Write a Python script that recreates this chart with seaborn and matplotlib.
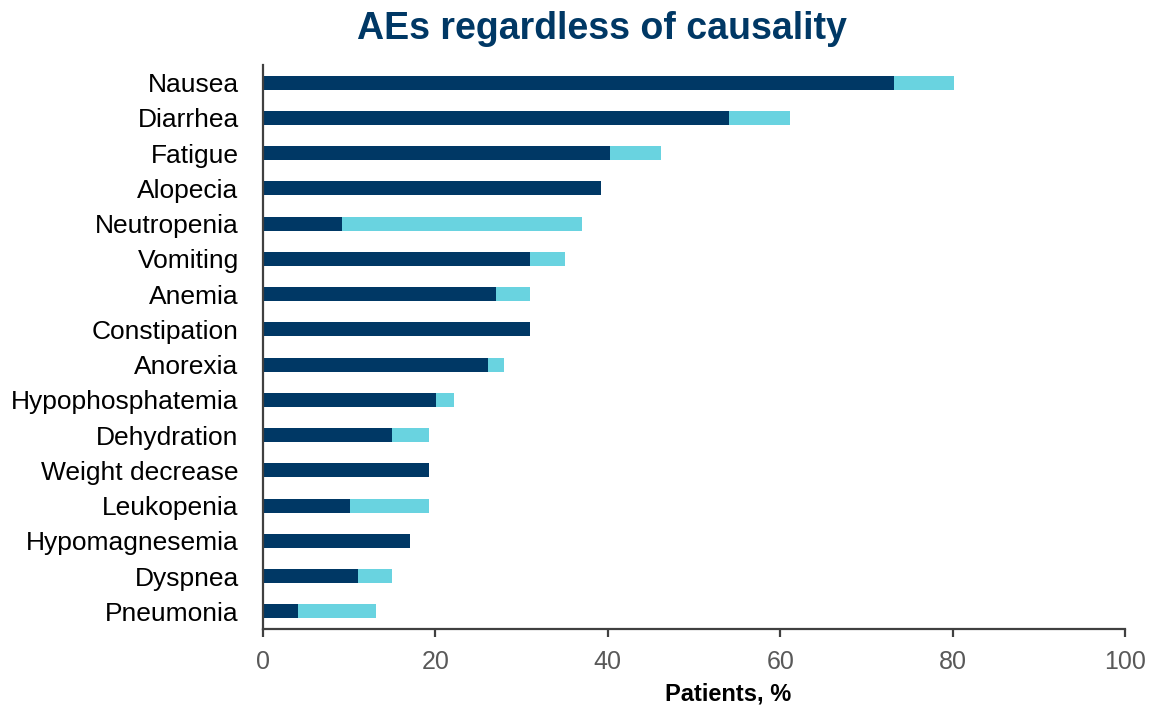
import matplotlib
matplotlib.use("Agg")
import matplotlib.pyplot as plt
import seaborn as sns
import pandas as pd

# =========================
# DATA
# =========================
events = ["Nausea", "Diarrhea", "Fatigue", "Alopecia", "Neutropenia", "Vomiting",
          "Anemia", "Constipation", "Anorexia", "Hypophosphatemia", "Dehydration",
          "Weight decrease", "Leukopenia", "Hypomagnesemia", "Dyspnea", "Pneumonia"]
grade_low = [73.2, 54.1, 40.2, 39.2, 9.2, 31.0, 27.0, 31.0, 26.1, 20.1, 15.0,
             19.2, 10.1, 17.1, 11.0, 4.1]
grade_high = [7.0, 7.0, 6.0, 0.0, 27.8, 4.0, 4.0, 0.0, 1.9, 2.1, 4.2,
              0.0, 9.1, 0.0, 4.0, 9.0]
xticks = [0, 20, 40, 60, 80, 100]

df = pd.DataFrame({"event": events, "low": grade_low, "high": grade_high})
df["total"] = df["low"] + df["high"]

DARK = "#003865"
LIGHT = "#69D3E0"
AXIS = "#404040"

# =========================
# PLOT
# =========================
sns.set_style("white")
plt.rcParams["font.family"] = ["Liberation Sans", "DejaVu Sans"]

fig = plt.figure(figsize=(11.72, 7.06), dpi=100)
ax = fig.add_axes([0.2244, 0.109, 0.7356, 0.799])

sns.barplot(data=df, x="total", y="event", color=LIGHT, width=0.4,
            saturation=1, orient="h", linewidth=0, ax=ax)
sns.barplot(data=df, x="low", y="event", color=DARK, width=0.4,
            saturation=1, orient="h", linewidth=0, ax=ax)

ax.set_xlim(0, 100)
ax.set_ylim(15.5, -0.5)
ax.set_xticks(xticks)
ax.set_xlabel("")
ax.set_ylabel("")

sns.despine(ax=ax)
for side in ["left", "bottom"]:
    ax.spines[side].set_color(AXIS)
    ax.spines[side].set_linewidth(1.6)

ax.tick_params(axis="x", bottom=True, length=6, width=1.6, color=AXIS,
               labelsize=18, labelcolor="#595959", pad=9)
ax.tick_params(axis="y", left=False, labelsize=19, labelcolor="black", pad=14)

fig.text(0.514, 0.985, "AEs regardless of causality", ha="center", va="top",
         fontsize=27, fontweight="bold", color=DARK)
fig.text(0.621, 1 - 683 / 706, "Patients, %", ha="center", va="top",
         fontsize=17, fontweight="bold", color="black")

fig.savefig("out.png", dpi=100)
